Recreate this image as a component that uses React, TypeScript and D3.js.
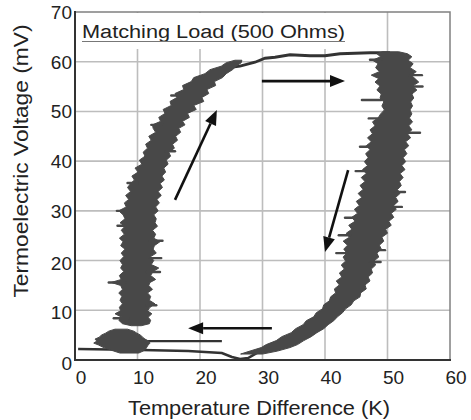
import React from "react";
import * as d3 from "d3";

const xTicks = [0, 10, 20, 30, 40, 50, 60];
const yTicks = [0, 10, 20, 30, 40, 50, 60, 70];

// [voltage, leftTemp, rightTemp] – heating branch (left band)
const leftBranch: [number, number, number][] = [
  [6.9, 9.0, 10.6], [7.3, 7.6, 11.9], [8.0, 7.0, 12.1], [8.6, 7.5, 11.7], [9.3, 6.4, 12.3],
  [9.9, 7.3, 11.6], [10.6, 7.1, 12.0], [11.3, 7.6, 12.8], [12.0, 7.2, 11.9], [12.8, 7.5, 12.1],
  [13.5, 7.0, 11.6], [14.2, 7.6, 12.4], [15.0, 7.3, 11.8], [15.6, 5.8, 12.0], [16.2, 7.4, 12.9],
  [17.0, 7.1, 12.1], [17.8, 7.8, 12.5], [18.5, 7.3, 13.4], [19.2, 7.6, 12.2], [20.0, 7.2, 12.6],
  [20.8, 7.8, 12.1], [21.5, 7.4, 13.0], [22.3, 8.0, 12.5], [23.0, 7.3, 12.7], [23.8, 7.7, 13.6],
  [24.5, 7.1, 12.6], [25.3, 7.9, 12.9], [26.1, 7.4, 12.4], [26.9, 8.0, 13.2], [27.6, 7.2, 12.8],
  [28.4, 8.0, 13.0], [29.2, 7.7, 12.6], [30.0, 7.0, 13.3], [30.8, 8.2, 12.9], [31.6, 7.9, 13.5],
  [32.3, 8.6, 13.1], [33.1, 8.1, 13.8], [33.9, 8.9, 13.3], [34.7, 8.4, 14.0], [35.5, 8.9, 13.6],
  [36.2, 9.5, 14.3], [37.0, 9.1, 13.9], [37.8, 10.1, 14.5], [38.6, 9.6, 14.2], [39.4, 10.7, 14.9],
  [40.2, 10.3, 14.6], [41.0, 11.2, 15.3], [41.8, 10.9, 15.0], [42.6, 11.6, 15.9], [43.4, 11.3, 15.6],
  [44.2, 12.2, 16.4], [45.0, 11.8, 16.1], [45.8, 12.9, 16.9], [46.6, 12.5, 16.6], [47.3, 12.4, 17.6],
  [48.0, 13.7, 17.2], [48.8, 13.4, 18.3], [49.6, 14.4, 18.0], [50.4, 14.1, 19.4], [51.2, 15.4, 19.0],
  [52.0, 15.2, 20.6], [52.8, 16.3, 20.3], [53.6, 16.0, 21.4], [54.4, 17.4, 21.1], [55.2, 17.2, 22.5],
  [56.0, 18.6, 22.3], [56.8, 19.0, 23.6], [57.6, 20.8, 24.2], [58.4, 21.6, 25.2], [59.1, 23.4, 25.8],
  [59.8, 24.2, 26.6], [60.3, 25.6, 26.7],
];

// cooling branch (right band)
const rightBranch: [number, number, number][] = [
  [62.0, 49.2, 51.8], [61.6, 48.3, 53.2], [61.0, 48.9, 53.9], [60.3, 47.6, 53.3], [59.6, 48.5, 54.1],
  [58.8, 48.1, 53.6], [58.0, 48.7, 54.6], [57.3, 47.4, 53.8], [56.6, 48.6, 54.4], [55.9, 48.0, 55.0],
  [55.1, 48.8, 54.0], [54.3, 48.3, 54.7], [53.5, 49.0, 53.9], [52.7, 48.8, 54.2], [51.9, 49.4, 53.7],
  [51.1, 49.1, 54.0], [50.3, 49.5, 53.6], [49.5, 48.9, 53.9], [48.7, 48.5, 53.5], [47.9, 47.6, 54.0],
  [47.1, 48.0, 53.4], [46.3, 47.2, 53.9], [45.5, 47.6, 53.2], [44.7, 46.8, 53.7], [43.9, 47.4, 52.9],
  [43.1, 46.6, 53.4], [42.3, 47.2, 52.7], [41.5, 46.5, 53.1], [40.7, 46.9, 52.5], [39.9, 46.3, 52.9],
  [39.1, 46.8, 52.3], [38.3, 46.0, 52.8], [37.5, 46.6, 52.0], [36.7, 45.8, 52.5], [35.9, 46.4, 51.9],
  [35.1, 45.6, 52.2], [34.3, 46.1, 51.6], [33.5, 45.3, 52.0], [32.7, 45.9, 51.3], [31.9, 45.0, 51.7],
  [31.1, 45.5, 51.0], [30.3, 44.7, 51.4], [29.5, 45.2, 50.6], [28.7, 44.3, 51.0], [27.9, 44.8, 50.2],
  [27.1, 43.8, 50.6], [26.3, 44.3, 49.7], [25.5, 43.4, 50.0], [24.7, 43.9, 49.1], [23.9, 42.9, 49.4],
  [23.1, 43.6, 48.7], [22.3, 43.0, 49.0], [21.5, 43.5, 48.3], [20.7, 42.9, 48.6], [19.9, 43.3, 47.8],
  [19.1, 42.6, 48.1], [18.3, 43.1, 47.4], [17.5, 42.3, 47.6], [16.7, 42.7, 46.9], [15.9, 41.8, 47.2],
  [15.1, 42.3, 46.4], [14.3, 41.5, 46.6], [13.5, 41.7, 45.7], [12.7, 40.9, 45.6], [11.9, 40.7, 44.6],
  [11.1, 39.8, 44.2], [10.3, 39.6, 43.3], [9.5, 38.6, 42.8], [8.7, 38.2, 42.0], [7.9, 37.0, 41.4],
  [7.1, 36.5, 40.5], [6.3, 35.3, 39.8], [5.5, 34.6, 38.7], [4.7, 33.1, 37.8], [3.9, 32.2, 36.6],
  [3.1, 30.6, 35.6], [2.5, 29.8, 34.4], [1.8, 28.0, 32.4], [1.2, 26.5, 30.0],
];

// blob at the lower left
const lowBlob: [number, number, number][] = [
  [6.2, 6.4, 8.4], [5.8, 5.4, 9.4], [5.4, 4.9, 9.9], [5.0, 4.2, 10.5], [4.6, 3.9, 10.8],
  [4.2, 3.2, 11.2], [3.8, 3.5, 11.8], [3.4, 3.0, 12.0], [3.0, 3.8, 11.7], [2.6, 4.4, 11.5],
  [2.2, 5.3, 11.3], [1.8, 6.2, 10.9], [1.4, 7.2, 10.2],
];

// noise spikes [voltage, temp from, temp to]
const spikes: [number, number, number][] = [
  [15.6, 5.4, 8.0], [8.4, 6.2, 8.5], [17.7, 11.5, 13.6], [30.0, 6.7, 8.5], [24.0, 12.0, 14.0],
  [35.6, 8.4, 10.0], [47.3, 12.2, 14.0], [20.5, 12.0, 13.8], [27.0, 6.8, 8.0], [11.0, 11.5, 13.0],
  [42.0, 14.5, 16.0], [53.2, 15.4, 17.0],
  [52.3, 45.9, 49.0], [60.4, 47.2, 49.0], [57.3, 53.5, 55.5], [45.7, 53.0, 55.2], [42.9, 45.6, 47.0],
  [21.5, 41.8, 43.6], [22.1, 48.5, 49.6], [19.7, 47.2, 48.9], [25.1, 42.2, 44.0], [33.8, 51.2, 52.8],
  [38.0, 44.9, 46.4], [28.6, 43.2, 45.0], [55.0, 54.0, 55.6], [48.6, 47.0, 48.8], [30.8, 51.0, 52.3],
];

// thin traces [temp, voltage]
const topTrace: [number, number][] = [
  [24.0, 58.7], [26.4, 59.1], [28.8, 59.9], [30.4, 60.7], [32.0, 60.9], [34.4, 61.4],
  [37.6, 61.2], [40.0, 61.2], [42.4, 61.6], [47.2, 61.8], [50.4, 61.8],
];
const bottomTrace: [number, number][] = [
  [0.5, 2.2], [10.7, 2.0], [18.1, 1.8], [23.5, 1.4], [25.1, 0.6], [26.4, 0.2],
  [27.7, 0.4], [29.9, 2.0], [32.8, 2.6], [35.0, 3.2],
];
const midLine: [number, number][] = [[11.5, 3.8], [23.5, 3.8]];

// arrows [x1, y1, x2, y2] in data units
const arrows: [number, number, number, number][] = [
  [16.0, 32.2, 22.7, 50.3],
  [29.9, 56.1, 43.2, 56.1],
  [43.7, 38.2, 40.0, 21.7],
  [31.5, 6.4, 18.1, 6.4],
];

const W = 471, H = 420;
const x = d3.scaleLinear().domain([0, 60]).range([75, 450]);
const y = d3.scaleLinear().domain([0, 70]).range([360, 12]);
const FONT = "'Liberation Sans', Arial, sans-serif";
const BAND = "#484848";

export default function App() {
  const area = d3.area<[number, number, number]>()
    .y((d) => y(d[0])).x0((d) => x(d[1])).x1((d) => x(d[2]));
  const line = d3.line<[number, number]>().x((d) => x(d[0])).y((d) => y(d[1]));

  const arrowEls = arrows.map((a, i) => {
    const x1 = x(a[0]), y1 = y(a[1]), x2 = x(a[2]), y2 = y(a[3]);
    const ang = Math.atan2(y2 - y1, x2 - x1);
    const L = 15, Wd = 6;
    const bx = x2 - L * Math.cos(ang), by = y2 - L * Math.sin(ang);
    const px = -Math.sin(ang) * Wd, py = Math.cos(ang) * Wd;
    return (
      <g key={i}>
        <line x1={x1} y1={y1} x2={bx} y2={by} stroke="#111" strokeWidth={2.6} />
        <polygon points={`${x2},${y2} ${bx + px},${by + py} ${bx - px},${by - py}`} fill="#111" />
      </g>
    );
  });

  return (
    <svg width={W} height={H} style={{ position: "absolute", left: 0, top: 0, background: "#fff" }}>
      <rect x={0} y={0} width={W} height={H} fill="#fff" />
      {xTicks.filter((t) => t > 0 && t < 60).map((t) => (
        <line key={"gx" + t} x1={x(t)} x2={x(t)} y1={y(70)} y2={y(0)} stroke="#bdbdbd" strokeWidth={1.6} />
      ))}
      {yTicks.filter((t) => t > 0 && t < 70).map((t) => (
        <line key={"gy" + t} x1={x(0)} x2={x(60)} y1={y(t)} y2={y(t)} stroke="#bdbdbd" strokeWidth={1.6} />
      ))}
      <rect x={x(0) + 1} y={y(70) + 1} width={277} height={36} fill="#fff" />
      <text x={82} y={38} fontFamily={FONT} fontSize={18} fill="#222" textLength={263} lengthAdjust="spacingAndGlyphs">
        Matching Load (500 Ohms)
      </text>
      <line x1={82} x2={345} y1={41.5} y2={41.5} stroke="#777" strokeWidth={1.2} />
      <rect x={x(0)} y={y(70)} width={x(60) - x(0)} height={y(0) - y(70)} fill="none" stroke="#808080" strokeWidth={1.5} />
      <path d={line(bottomTrace) || ""} fill="none" stroke="#333" strokeWidth={2.6} />
      <path d={line(midLine) || ""} fill="none" stroke="#333" strokeWidth={2.4} />
      <path d={line(topTrace) || ""} fill="none" stroke="#333" strokeWidth={2.8} />
      <path d={area(leftBranch) || ""} fill={BAND} stroke={BAND} strokeWidth={1} strokeLinejoin="round" />
      <path d={area(rightBranch) || ""} fill={BAND} stroke={BAND} strokeWidth={1} strokeLinejoin="round" />
      <path d={area(lowBlob) || ""} fill={BAND} stroke={BAND} strokeWidth={1} strokeLinejoin="round" />
      {spikes.map((s, i) => (
        <line key={"s" + i} x1={x(s[1])} x2={x(s[2])} y1={y(s[0])} y2={y(s[0])} stroke={BAND} strokeWidth={2.4} strokeLinecap="round" />
      ))}
      {arrowEls}
      <line x1={x(0)} x2={x(0)} y1={y(70) - 1} y2={y(0) + 1} stroke="#333" strokeWidth={2} />
      <line x1={x(0) - 1} x2={x(60) + 1} y1={y(0)} y2={y(0)} stroke="#333" strokeWidth={2} />
      {yTicks.map((t) => (
        <text key={"yt" + t} x={72} y={y(t) + 7 + (t === 0 ? 3 : t < 30 ? 2 : 0)} textAnchor="end" fontFamily={FONT} fontSize={19} fill="#222">
          {t}
        </text>
      ))}
      {xTicks.map((t) => (
        <text key={"xt" + t} x={x(t) + 6} y={384} textAnchor="middle" fontFamily={FONT} fontSize={19} fill="#222">
          {t}
        </text>
      ))}
      <text x={259} y={415} textAnchor="middle" fontFamily={FONT} fontSize={20} fill="#222" textLength={262} lengthAdjust="spacingAndGlyphs">
        Temperature Difference (K)
      </text>
      <text transform="translate(28,161) rotate(-90)" textAnchor="middle" fontFamily={FONT} fontSize={20} fill="#222" textLength={273} lengthAdjust="spacingAndGlyphs">
        Termoelectric Voltage (mV)
      </text>
    </svg>
  );
}
